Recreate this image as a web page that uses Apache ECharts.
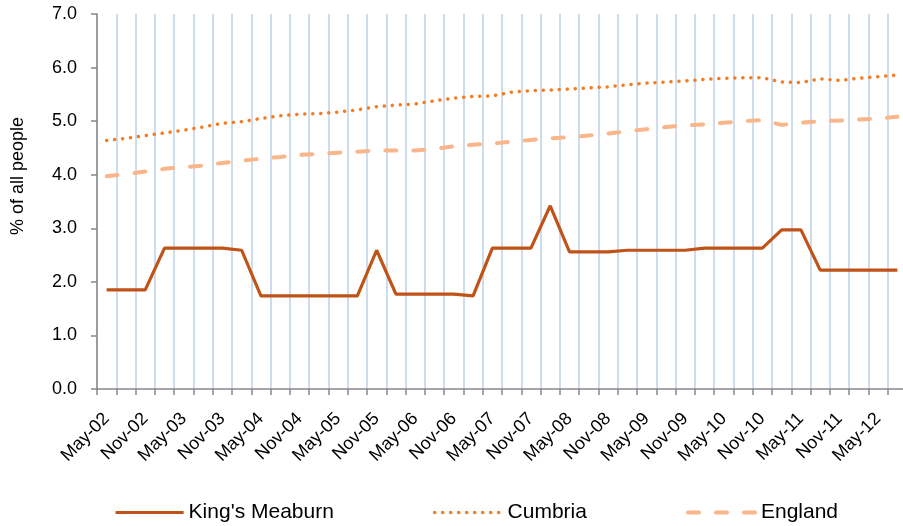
<!DOCTYPE html>
<html>
<head>
<meta charset="utf-8">
<script src="https://cdn.jsdelivr.net/npm/echarts@6/dist/echarts.min.js"></script>
<style>
    html, body { margin: 0; padding: 0; background: #fff; overflow: hidden; }
    /* the original plot runs a few px past the right edge of the picture */
    #main { width: 907px; height: 526px; }
</style>
</head>
<body>
<div id="main"></div>
<script>
// quarterly periods, only every second one gets a label
var periods = [
    'May-02', 'Aug-02', 'Nov-02', 'Feb-03', 'May-03', 'Aug-03', 'Nov-03', 'Feb-04',
    'May-04', 'Aug-04', 'Nov-04', 'Feb-05', 'May-05', 'Aug-05', 'Nov-05', 'Feb-06',
    'May-06', 'Aug-06', 'Nov-06', 'Feb-07', 'May-07', 'Aug-07', 'Nov-07', 'Feb-08',
    'May-08', 'Aug-08', 'Nov-08', 'Feb-09', 'May-09', 'Aug-09', 'Nov-09', 'Feb-10',
    'May-10', 'Aug-10', 'Nov-10', 'Feb-11', 'May-11', 'Aug-11', 'Nov-11', 'Feb-12',
    'May-12', 'Aug-12'
];

var kingsMeaburn = [
    1.85, 1.85, 1.85, 2.63, 2.63, 2.63, 2.63, 2.59, 1.74, 1.74,
    1.74, 1.74, 1.74, 1.74, 2.59, 1.77, 1.77, 1.77, 1.77, 1.74,
    2.63, 2.63, 2.63, 3.42, 2.56, 2.56, 2.56, 2.59, 2.59, 2.59,
    2.59, 2.63, 2.63, 2.63, 2.63, 2.97, 2.97, 2.22, 2.22, 2.22,
    2.22, 2.22
];

var cumbria = [
    4.64, 4.68, 4.73, 4.78, 4.83, 4.89, 4.96, 4.99, 5.05, 5.10,
    5.13, 5.14, 5.17, 5.21, 5.27, 5.30, 5.32, 5.38, 5.43, 5.46,
    5.47, 5.54, 5.57, 5.58, 5.60, 5.62, 5.64, 5.68, 5.71, 5.73,
    5.75, 5.78, 5.80, 5.81, 5.81, 5.73, 5.72, 5.79, 5.76, 5.80,
    5.83, 5.86
];

var england = [
    3.97, 4.01, 4.06, 4.11, 4.14, 4.17, 4.22, 4.26, 4.30, 4.33,
    4.37, 4.39, 4.41, 4.43, 4.45, 4.45, 4.45, 4.48, 4.53, 4.56,
    4.58, 4.62, 4.65, 4.68, 4.70, 4.73, 4.77, 4.81, 4.85, 4.89,
    4.92, 4.94, 4.97, 5.00, 5.02, 4.93, 4.97, 5.00, 5.01, 5.03,
    5.05, 5.08
];

var FONT = '"Liberation Sans", Arial, sans-serif';
var kmStyle = {width: 3.2, color: '#BF5318'};
var cuStyle = {width: 3.5, color: '#F47B20', type: [0.1, 7.9], cap: 'round'};
var enStyle = {width: 4, color: '#F9B68A', type: [11, 17], cap: 'round'};

var myChart = echarts.init(document.getElementById('main'));
myChart.setOption({
    backgroundColor: '#fff',
    animation: false,
    textStyle: {fontFamily: FONT, color: '#000'},
    grid: {left: 97, right: 0, top: 14, bottom: 137},
    graphic: [{
        type: 'text',
        x: 18,
        y: 176,
        rotation: Math.PI / 2,
        style: {
            text: '% of all people',
            font: '18px ' + FONT,
            fill: '#000',
            align: 'center',
            verticalAlign: 'middle'
        }
    }],
    legend: {
        left: 109,
        top: 497,
        itemWidth: 68,
        itemHeight: 14,
        itemGap: 99,
        itemStyle: {opacity: 0},
        textStyle: {fontSize: 21, color: '#000', fontFamily: FONT},
        data: [
            {name: "King's Meaburn", lineStyle: kmStyle},
            {name: 'Cumbria', lineStyle: cuStyle},
            {name: 'England', lineStyle: enStyle}
        ]
    },
    xAxis: {
        type: 'category',
        data: periods,
        boundaryGap: true,
        axisLine: {lineStyle: {color: '#888', width: 1.5}},
        axisTick: {show: true, interval: 0, length: 6, lineStyle: {color: '#888', width: 1.5}},
        axisLabel: {interval: 1, rotate: 45, fontSize: 18, color: '#000', margin: 27},
        splitLine: {show: true, interval: 0, lineStyle: {color: '#BDD0E9', width: 1.5}}
    },
    yAxis: {
        type: 'value',
        min: 0,
        max: 7,
        interval: 1,
        axisLine: {show: true, lineStyle: {color: '#888', width: 1.5}},
        axisTick: {show: true, length: 6, lineStyle: {color: '#888', width: 1.5}},
        axisLabel: {
            fontSize: 18,
            color: '#000',
            margin: 20,
            formatter: function (v) { return v.toFixed(1); }
        },
        splitLine: {show: false}
    },
    series: [
        {
            name: "King's Meaburn",
            type: 'line',
            data: kingsMeaburn,
            symbol: 'none',
            color: '#BF5318',
            lineStyle: kmStyle
        },
        {
            name: 'Cumbria',
            type: 'line',
            data: cumbria,
            symbol: 'none',
            color: '#F47B20',
            lineStyle: cuStyle
        },
        {
            name: 'England',
            type: 'line',
            data: england,
            symbol: 'none',
            color: '#F9B68A',
            lineStyle: enStyle
        }
    ]
});
</script>
</body>
</html>
